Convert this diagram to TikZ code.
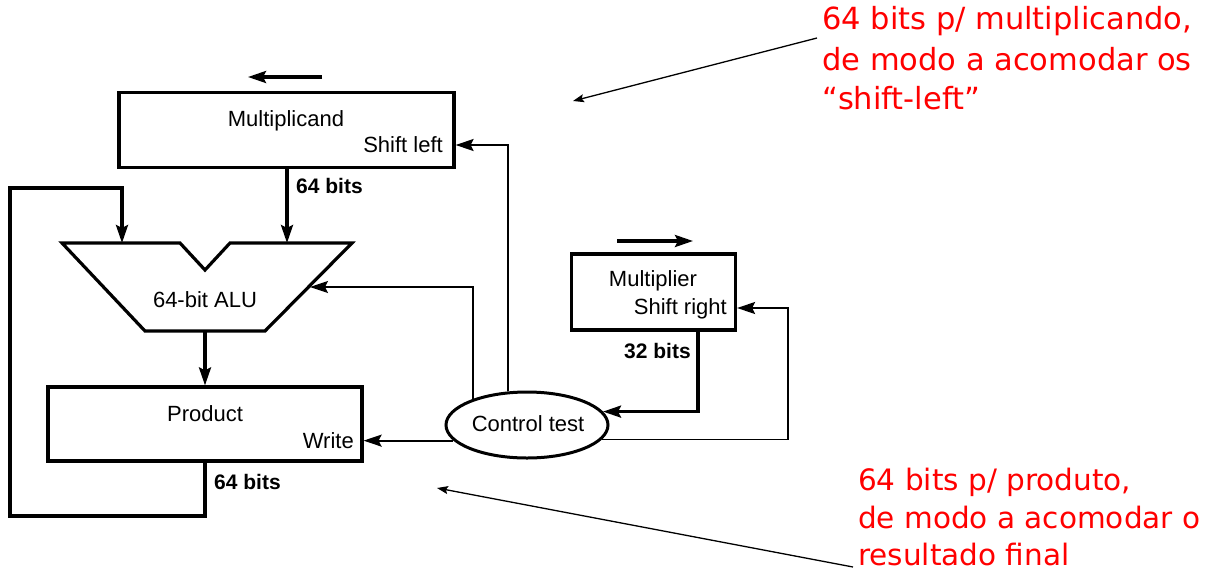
\documentclass[tikz,border=0pt]{standalone}
\usepackage{fontspec}
\setmainfont{Liberation Sans}
\newfontfamily\notefont{DejaVu Sans}
\usetikzlibrary{arrows.meta,shapes.geometric}
\begin{document}
\begin{tikzpicture}[x=1pt,y=-1pt,
  thickline/.style={line width=3.2pt},
  thinline/.style={line width=1.8pt},
  bigtip/.style={-{Stealth[length=18pt,width=12pt,inset=3pt]}},
  regbox/.style={draw,line width=3.2pt,inner sep=0pt},
  lbl/.style={font=\fontsize{22}{26}\selectfont,inner sep=0pt},
  bitslbl/.style={font=\bfseries\fontsize{21}{25}\selectfont,inner sep=0pt,anchor=base west},
  note/.style={text=red,font=\notefont\fontsize{30.5}{36}\selectfont,inner sep=0pt,anchor=base west},
  notebot/.style={text=red,font=\notefont\fontsize{29.5}{36}\selectfont,inner sep=0pt,anchor=base west},
  pointer/.style={line width=1.3pt,-{Stealth[length=11pt,width=8pt,inset=2pt]}},
]
\useasboundingbox (0,0) rectangle (1213,574);
\fill[white] (0,0) rectangle (1213,574);

% registers and control
\node[regbox,minimum width=335pt,minimum height=75pt] (mcand) at (286.5,130) {};
\node[regbox,minimum width=314pt,minimum height=74pt] (prod) at (205,424) {};
\node[regbox,minimum width=164pt,minimum height=76pt] (mult) at (653.5,292) {};
\node[draw,ellipse,line width=3pt,minimum width=162pt,minimum height=66pt,inner sep=0pt] (ctrl) at (527,425) {};

% ALU
\draw[thickline,line join=miter] (62,243) -- (180,243) -- (205,270) -- (230,243) -- (352,243) -- (265,331) -- (145,331) -- cycle;
\coordinate (aluInL) at (122,243);
\coordinate (aluInR) at (287,243);
\coordinate (aluOut) at (205,331);
\coordinate (aluCtl) at (310,287);

% labels
\node[lbl,anchor=base] (tmcand) at (286,126) {Multiplicand};
\node[lbl,anchor=base east] (tsl) at (443,152) {Shift left};
\node[bitslbl] (tb1) at (296,193) {64 bits};
\node[lbl,anchor=base] (talu) at (205,307) {64-bit ALU};
\node[lbl,anchor=base] (tprod) at (205,421) {Product};
\node[lbl,anchor=base east] (twrite) at (354,448) {Write};
\node[bitslbl] (tb2) at (214,489) {64 bits};
\node[lbl,anchor=base] (tmult) at (653,286) {Multiplier};
\node[lbl,anchor=base east] (tsr) at (727,314) {Shift right};
\node[bitslbl] (tb3) at (624,358) {32 bits};
\node[lbl,anchor=base] (tctrl) at (528,431) {Control test};

% data paths
\draw[thickline,bigtip] (mcand.south -| aluInR) -- (aluInR);
\draw[thickline,bigtip] (aluOut) -- (prod.north);
\coordinate (fb1) at (10,516);
\coordinate (fb2) at (10,188);
\draw[thickline,bigtip,line join=miter] (prod.south) -- (prod.south |- fb1) -- (fb1) -- (fb2) -- (fb2 -| aluInL) -- (aluInL);

% shift direction arrows
\coordinate (la1) at (322,77);
\coordinate (la2) at (248,77);
\draw[thickline,bigtip] (la1) -- (la2);
\coordinate (ra1) at (617,241);
\coordinate (ra2) at (693,241);
\draw[thickline,bigtip] (ra1) -- (ra2);

% control paths
\draw[thinline,bigtip] (ctrl.119.2) |- ([yshift=-15pt]mcand.east);
\draw[thinline,bigtip] (ctrl.154.1) |- (aluCtl);
\draw[thinline,bigtip] (ctrl.192.7) -- (ctrl.192.7 -| prod.east);
\draw[thickline,bigtip] ([xshift=44.5pt]mult.south) |- (ctrl.10.8);
\coordinate (srC) at (788,308);
\draw[thinline,bigtip] (ctrl.349.2) -| (srC) -- ([yshift=-16pt]mult.east);

% notes
\node[note] (n1) at (822,29) {64 bits p/ multiplicando,};
\node[note] (n2) at (822,70) {de modo a acomodar os};
\node[note] (n3) at (822,109) {“shift-left”};
\node[notebot] (m1) at (858,490) {64 bits p/ produto,};
\node[notebot] (m2) at (858,528) {de modo a acomodar o};
\node[notebot] (m3) at (858,565) {resultado final};

\coordinate (p1s) at (817,38);
\coordinate (p1e) at (573,101);
\draw[pointer] (p1s) -- (p1e);
\coordinate (p2s) at (853,567);
\coordinate (p2e) at (437,488);
\draw[pointer] (p2s) -- (p2e);
\end{tikzpicture}
\end{document}
